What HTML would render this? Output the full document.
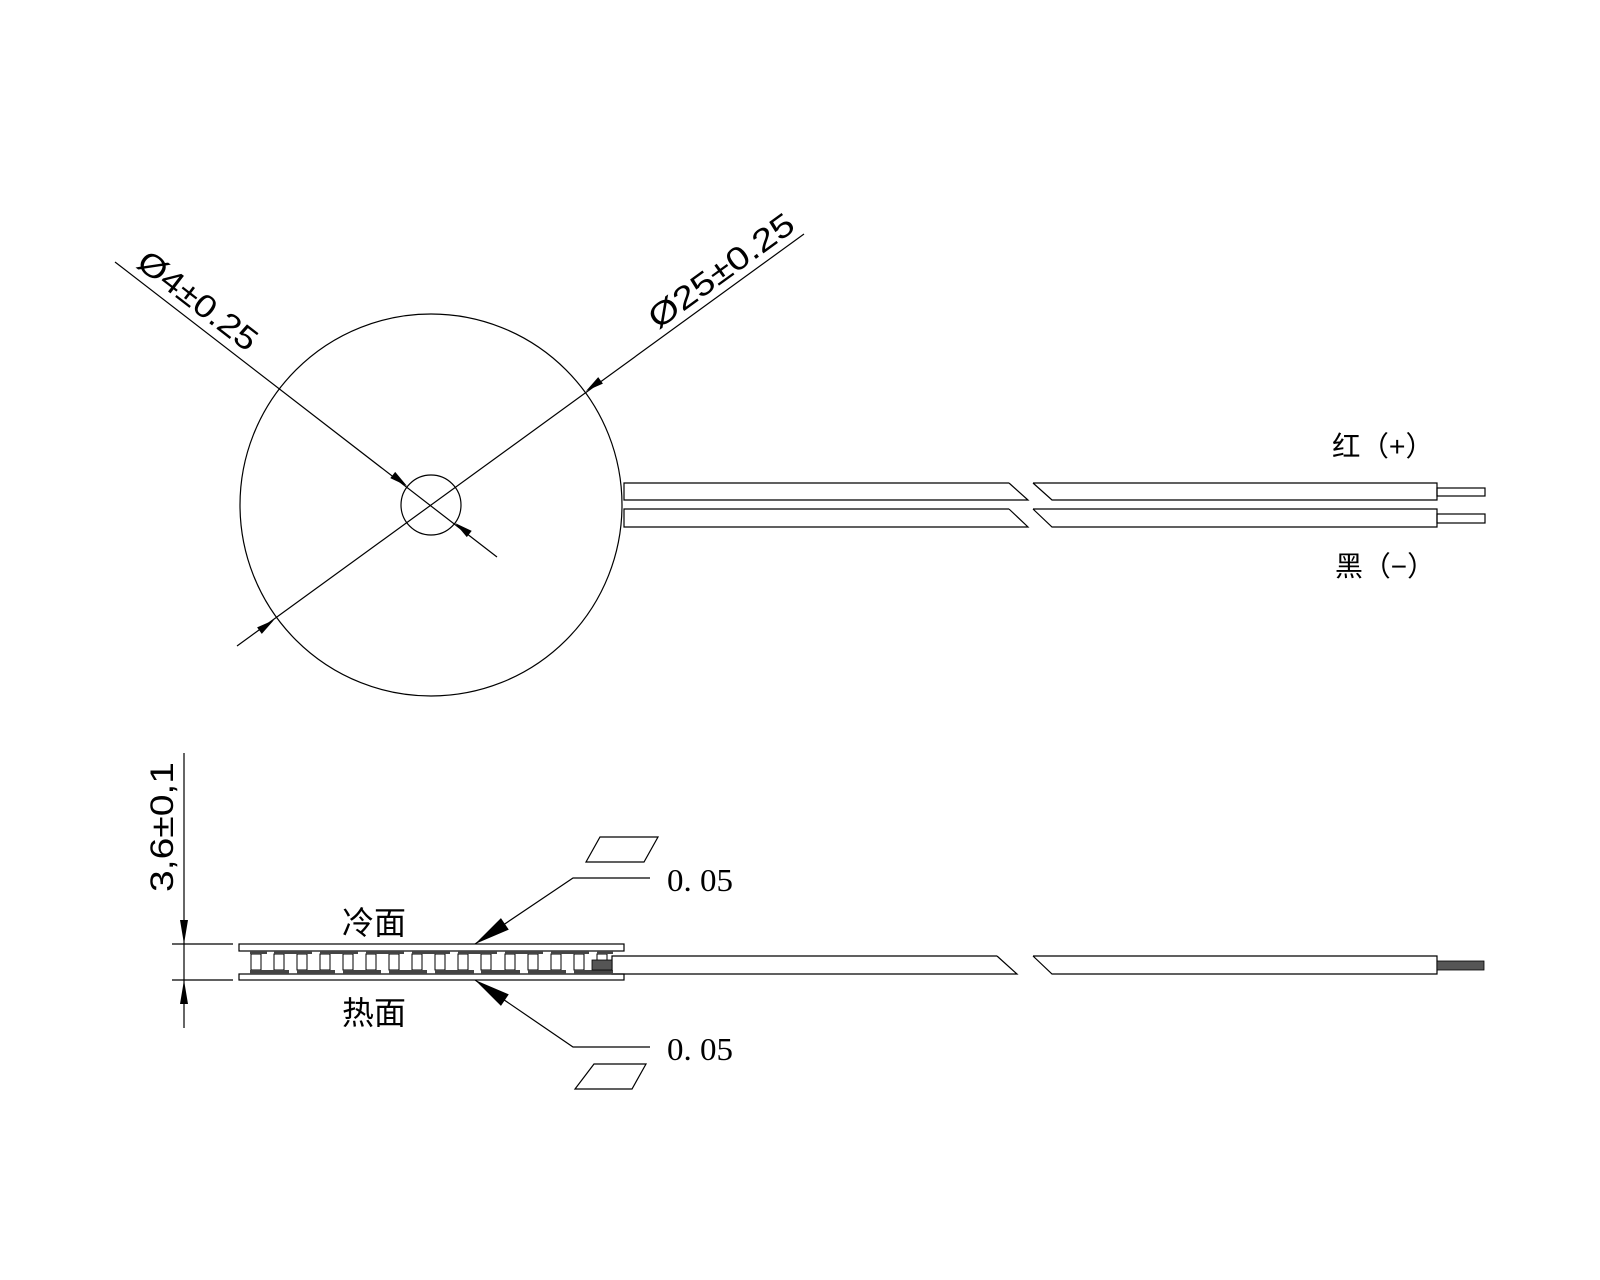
<!DOCTYPE html>
<html><head><meta charset="utf-8"><style>html,body{margin:0;padding:0;background:#fff}svg{display:block}</style></head>
<body>
<svg width="1600" height="1280" viewBox="0 0 1600 1280" xmlns="http://www.w3.org/2000/svg" font-family="'Liberation Sans','Noto Sans CJK SC',sans-serif">
<rect width="1600" height="1280" fill="#fff"/>
<g fill="none" stroke="#000" stroke-width="1.2">
<circle cx="431" cy="505" r="191"/>
<circle cx="431" cy="505" r="30"/>
<line x1="115" y1="262" x2="497" y2="557"/>
<line x1="237" y1="646" x2="804" y2="234"/>
<polyline points="1009,483 624,483 624,500 1028,500 1009,483"/>
<polyline points="1009,509 624,509 624,527 1028,527 1009,509"/>
<polyline points="1033,483 1437,483 1437,500 1052,500 1033,483"/>
<polyline points="1033,509 1437,509 1437,527 1052,527 1033,509"/>
<rect x="1437" y="488" width="48" height="8"/>
<rect x="1437" y="514" width="48" height="9"/>
<rect x="239" y="944" width="385" height="7"/>
<rect x="239" y="974" width="385" height="6"/>
<polyline points="997,956 612,956 612,974 1017,974 997,956"/>
<polyline points="1033,956 1437,956 1437,974 1052,974 1033,956"/>
<line x1="172" y1="944" x2="233" y2="944"/>
<line x1="172" y1="980" x2="233" y2="980"/>
<line x1="184" y1="753" x2="184" y2="1028"/>
<polyline points="475,944 573,878 650,878"/>
<polyline points="475,980 573,1047 650,1047"/>
<polygon points="600,837 658,837 644,862 586,862"/>
<polygon points="594,1064 646,1064 632,1089 575,1089"/>
</g>
<g fill="#fff" stroke="#000" stroke-width="1">
<rect x="251" y="954" width="10" height="16"/><rect x="274" y="954" width="10" height="16"/>
<rect x="297" y="954" width="10" height="16"/><rect x="320" y="954" width="10" height="16"/>
<rect x="343" y="954" width="10" height="16"/><rect x="366" y="954" width="10" height="16"/>
<rect x="389" y="954" width="10" height="16"/><rect x="412" y="954" width="10" height="16"/>
<rect x="435" y="954" width="10" height="16"/><rect x="458" y="954" width="10" height="16"/>
<rect x="481" y="954" width="10" height="16"/><rect x="505" y="954" width="10" height="16"/>
<rect x="528" y="954" width="10" height="16"/><rect x="551" y="954" width="10" height="16"/>
<rect x="574" y="954" width="10" height="16"/><rect x="597" y="954" width="10" height="16"/>
</g>
<g fill="#444">
<rect x="250" y="951" width="17" height="3"/><rect x="274" y="951" width="38" height="3"/>
<rect x="320" y="951" width="38" height="3"/><rect x="366" y="951" width="38" height="3"/>
<rect x="412" y="951" width="38" height="3"/><rect x="458" y="951" width="39" height="3"/>
<rect x="505" y="951" width="38" height="3"/><rect x="551" y="951" width="38" height="3"/>
<rect x="597" y="951" width="16" height="3"/>
<rect x="250" y="970" width="39" height="4"/><rect x="297" y="970" width="38" height="4"/>
<rect x="343" y="970" width="38" height="4"/><rect x="389" y="970" width="38" height="4"/>
<rect x="435" y="970" width="39" height="4"/><rect x="481" y="970" width="39" height="4"/>
<rect x="528" y="970" width="38" height="4"/><rect x="574" y="970" width="39" height="4"/>
<rect x="592" y="960" width="20" height="10" fill="#555" stroke="#000" stroke-width="0.8"/>
<rect x="1437" y="961" width="47" height="9" fill="#555" stroke="#000" stroke-width="0.8"/>
</g>
<g fill="#000">
<polygon points="0,0 -18,-4 -18,4" transform="translate(274,620) rotate(-36)"/>
<polygon points="0,0 -18,-4 -18,4" transform="translate(586,391) rotate(144)"/>
<polygon points="0,0 -18,-4 -18,4" transform="translate(407,486) rotate(37.6)"/>
<polygon points="0,0 -18,-4 -18,4" transform="translate(455,523) rotate(217.6)"/>
<polygon points="184,944 180,920 188,920"/>
<polygon points="184,980 180,1004 188,1004"/>
<polygon points="0,0 -36,-7 -36,7" transform="translate(475,944) rotate(146)"/>
<polygon points="0,0 -36,-7 -36,7" transform="translate(475,980) rotate(214)"/>
</g>
<g fill="#000" font-size="32">
<text x="0" y="0" transform="translate(135,266) rotate(37.6)" textLength="142" lengthAdjust="spacingAndGlyphs">Ø4±0.25</text>
<text x="0" y="0" transform="translate(658,330) rotate(-36)" textLength="172" lengthAdjust="spacingAndGlyphs">Ø25±0.25</text>
<text x="0" y="0" transform="translate(173,892) rotate(-90)" textLength="130" lengthAdjust="spacingAndGlyphs">3,6±0,1</text>
<text x="1332" y="456" font-size="28" textLength="102" lengthAdjust="spacingAndGlyphs">红（+）</text>
<text x="1335" y="576" font-size="28" textLength="100" lengthAdjust="spacingAndGlyphs">黑（−）</text>
<text x="342" y="934" font-size="32">冷面</text>
<text x="342" y="1024" font-size="32">热面</text>
<text x="667" y="891" font-family="'Liberation Serif',serif" font-size="32" textLength="66" lengthAdjust="spacingAndGlyphs">0. 05</text>
<text x="667" y="1060" font-family="'Liberation Serif',serif" font-size="32" textLength="66" lengthAdjust="spacingAndGlyphs">0. 05</text>
</g>
</svg>
</body></html>
